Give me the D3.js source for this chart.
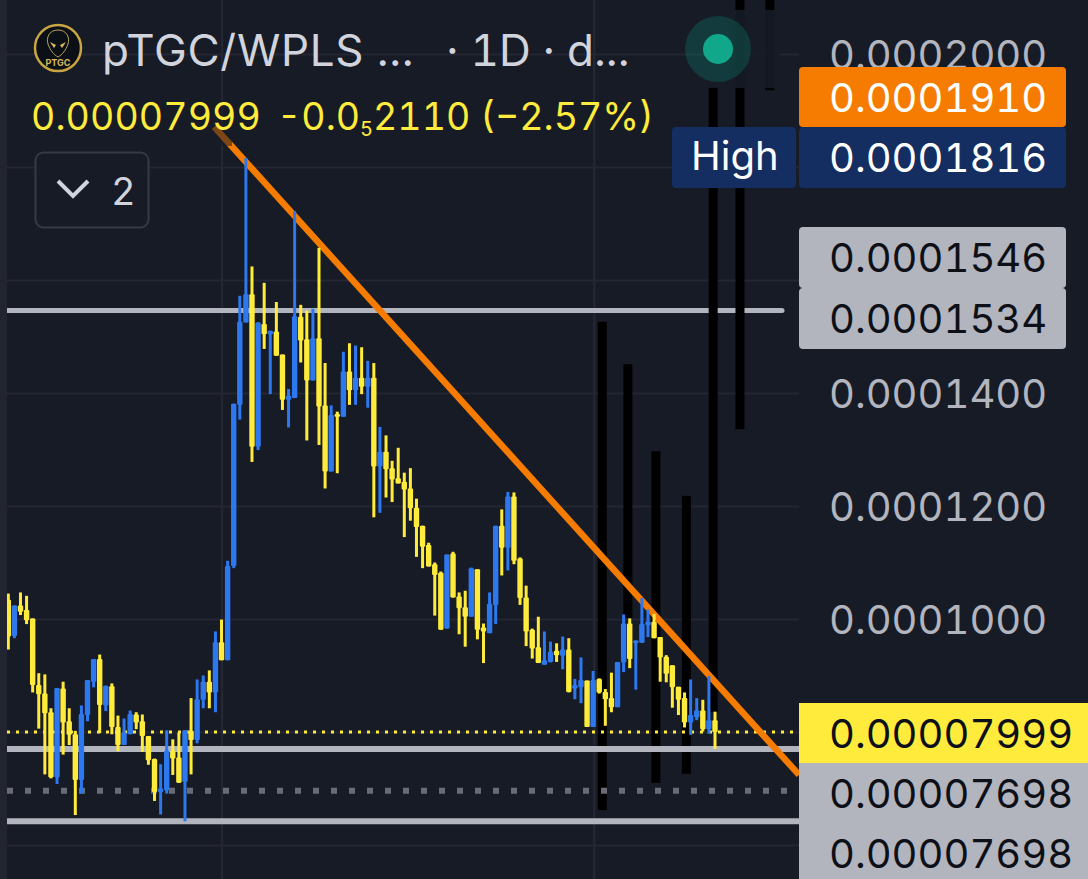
<!DOCTYPE html>
<html>
<head>
<meta charset="utf-8">
<script src="https://cdn.jsdelivr.net/npm/d3@7"></script>
<style>
  html, body { margin: 0; padding: 0; background: #171b26; overflow: hidden; }
  svg { display: block; }
  text { font-family: Inter, "Noto Sans", sans-serif; font-variant-numeric: tabular-nums; }
</style>
</head>
<body>
<div id="app"></div>
<script>
'use strict'

// prices are in millionths (100 = 0.0001000)
const opens = [103.4,97.0,102.4,101.6,100.1,88.3,86.8,83.5,72.0,87.7,81.9,79.6,71.5,83.0,88.9,92.9,84.7,88.1,80.9,77.7,
  79.6,83.1,81.9,79.3,75.2,69.4,69.7,76.7,75.5,71.2,80.2,78.6,85.7,88.9,87.0,95.9,92.7,109.4,137.9,152.5,
  157.5,130.5,152.2,150.4,150.9,146.8,138.8,139.1,153.5,149.5,142.2,149.7,137.8,126.1,136.3,135.8,143.8,140.5,142.7,141.1,
  142.7,127.0,129.6,126.7,124.9,124.3,123.1,119.7,116.5,113.1,109.7,108.2,98.3,111.6,104.0,102.1,100.4,108.8,98.5,97.5,
  102.5,116.5,112.6,121.7,110.7,103.8,98.1,95.0,91.9,92.4,94.4,93.5,94.6,87.7,87.9,89.1,80.9,89.4,87.1,86.0,
  84.4,92.3,99.2,95.7,95.8,98.9,99.5,96.8,93.3,91.8,88.0,86.0,81.7,82.6,83.8,80.5,82.1];
const closes = [96.9,102.4,101.3,99.8,88.3,86.7,83.3,72.0,87.8,81.7,79.5,71.5,83.2,89.2,92.9,84.8,88.2,80.9,77.7,79.9,
  83.2,81.7,79.3,75.0,69.4,70.0,76.7,75.3,71.0,80.3,78.6,85.8,88.9,87.0,95.9,92.7,109.4,138.1,152.6,157.5,
  130.5,152.5,150.4,151.0,146.6,138.8,139.5,153.6,149.3,142.2,149.7,137.6,126.1,136.1,135.8,143.8,140.5,142.7,141.1,142.7,
  127.0,129.6,126.5,124.7,124.0,122.9,119.6,116.3,112.8,109.3,107.8,98.1,111.4,103.8,101.9,100.4,109.0,98.1,97.8,102.7,
  116.5,112.6,121.7,110.3,103.7,97.8,94.8,92.2,92.7,94.2,93.6,94.6,87.1,88.3,89.2,80.9,89.2,87.0,85.8,84.4,
  92.4,99.2,92.9,96.2,99.1,99.5,96.6,93.2,90.3,87.9,85.7,81.7,83.0,83.8,80.5,82.1,80.0];
const highs = [104.5,102.4,104.7,104.1,100.1,90.4,90.2,84.2,87.8,88.9,84.2,80.2,84.7,89.2,92.9,93.7,88.2,88.6,82.9,82.4,
  83.8,83.5,83.1,79.3,75.3,74.3,80.3,78.7,79.9,80.3,86.0,89.3,90.0,90.9,97.8,99.9,110.3,138.1,157.2,181.6,
  162.4,152.5,159.5,151.0,156.1,146.8,140.7,172.2,155.6,154.6,154.9,165.7,145.3,137.8,136.7,147.3,148.8,148.4,148.1,145.7,
  145.3,134.0,132.5,128.0,130.3,125.9,126.7,121.3,116.5,113.5,110.0,108.4,111.4,111.9,104.7,105.0,109.1,108.8,99.2,104.7,
  116.5,119.4,122.5,122.4,110.9,105.9,98.3,100.4,97.8,96.0,95.7,96.9,96.6,89.4,93.2,89.1,90.8,89.5,87.6,90.5,
  92.4,100.8,100.1,96.2,103.7,101.7,100.9,96.8,93.6,91.8,88.0,87.0,89.3,86.0,85.7,89.9,83.6];
const lows = [94.6,96.6,100.7,99.1,87.0,80.6,72.5,71.8,70.8,76.0,77.7,65.3,69.1,81.9,87.9,79.8,83.7,79.6,76.6,77.7,
  79.6,80.5,76.5,74.2,67.8,65.4,69.1,72.4,71.0,64.2,72.5,78.0,84.2,84.2,83.5,92.7,92.7,109.0,135.3,152.5,
  127.8,129.9,147.8,139.8,146.6,137.0,133.9,139.1,145.4,131.6,142.2,130.8,123.1,126.1,125.8,135.8,137.9,137.9,139.8,137.4,
  118.0,118.8,121.5,120.7,124.0,114.5,117.4,111.0,109.0,109.3,100.6,98.1,98.3,103.8,97.3,95.1,100.4,96.4,92.2,97.5,
  99.1,107.7,108.6,109.7,102.5,95.2,93.0,92.2,91.9,92.3,92.4,91.1,87.0,85.8,85.1,80.9,80.9,86.8,81.1,83.5,
  84.4,90.6,91.3,87.5,95.8,96.8,96.6,88.9,88.8,84.3,83.0,80.8,79.5,82.1,80.1,79.7,77.0];

const priceTicks = [60, 80, 100, 120, 140, 160, 180, 200];
// the others sit behind the price tags
const labelledTicks = [100, 120, 140, 200];

// thick black drawn bars: x in candle index, top and bottom in price
const barIndex = [97.5, 101.7, 106.3, 111.3, 115.7, 120.1, 125];
const barTop = [152.6, 145.1, 129.7, 121.8, 194.0, 212, 212];
const barBottom = [66.2, 100.2, 71.0, 72.6, 83.5, 133.6, 193.6];

// orange trend line, candle index and price
const trendIndex = [33.8, 129.8];
const trendPrice = [187.1, 72.4];

const resistance = 154.6;
const support = [77.0, 64.2];
const dottedGrey = 69.6;
const lastPrice = 80.0;
const gridIndex = [35, 96.1];

// right side price tags, top to bottom
const tagLabels = ['0.0001910', '0.0001816', '0.0001546', '0.0001534', '0.00007999', '0.00007698', '0.00007698'];
const tagFills = ['#f57c00', '#142e61', '#b2b5be', '#b2b5be', '#ffeb3b', '#b2b5be', '#b2b5be'];
const tagTexts = ['#ffffff', '#ffffff', '#0e1018', '#0e1018', '#0e1018', '#0e1018', '#0e1018'];
const tagTops = [67, 127, 227, 288, 703, 763, 823];

const width = 1088;
const height = 879;
const plotLeft = 7;
const plotRight = 799;
const bg = '#171b26';

let svg = d3.select('#app').append('svg').attr('width', width).attr('height', height);

let x = d3.scaleLinear().domain([0, 116]).range([8.3, 715]);
let y = d3.scaleLinear().domain([60, 200]).range([845, 54]);

svg.append('rect').attr('width', width).attr('height', height).attr('fill', bg);
svg.append('rect').attr('width', plotLeft).attr('height', height).attr('fill', '#22252f');

svg.append('clipPath').attr('id', 'plot')
  .append('rect').attr('x', plotLeft).attr('y', 0).attr('width', plotRight - plotLeft).attr('height', height);

let plot = svg.append('g').attr('clip-path', 'url(#plot)');

// Draw grid
(plot.append('g')
  .attr('transform', `translate(${plotLeft},0)`)
  .call(d3.axisRight(y).tickValues(priceTicks).tickSize(plotRight - plotLeft).tickFormat(''))
  .call((g) => g.select('.domain').remove())
  .call((g) => g.selectAll('line').attr('stroke', '#242732').attr('stroke-width', 2))
);
(plot.append('g')
  .attr('transform', `translate(0,${height})`)
  .call(d3.axisTop(x).tickValues(gridIndex).tickSize(height).tickFormat(''))
  .call((g) => g.select('.domain').remove())
  .call((g) => g.selectAll('line').attr('stroke', '#242732').attr('stroke-width', 2.5))
);

// Draw the upper grey level, it stops short of the axis
(plot.append('line')
  .attr('x1', plotLeft).attr('x2', 782)
  .attr('y1', y(resistance)).attr('y2', y(resistance))
  .attr('stroke', '#b2b5be').attr('stroke-width', 5).attr('stroke-linecap', 'round')
);

// Draw black bars
(plot.selectAll('whatever')
  .data(barIndex)
  .enter()
    .append('rect')
      .attr('x', (d) => x(d) - 4.5)
      .attr('width', 9)
      .attr('y', (d, i) => y(barTop[i]))
      .attr('height', (d, i) => y(barBottom[i]) - y(barTop[i]))
      .attr('fill', '#000000')
);

// Draw lower grey levels
(plot.selectAll('whatever')
  .data(support)
  .enter()
    .append('line')
      .attr('x1', plotLeft).attr('x2', plotRight)
      .attr('y1', (d) => y(d)).attr('y2', (d) => y(d))
      .attr('stroke', '#b2b5be').attr('stroke-width', 6)
);
(plot.append('line')
  .attr('x1', plotLeft).attr('x2', plotRight)
  .attr('y1', y(dottedGrey)).attr('y2', y(dottedGrey))
  .attr('stroke', '#6a6c75').attr('stroke-width', 6).attr('stroke-dasharray', '6 12')
);
(plot.append('line')
  .attr('x1', plotLeft).attr('x2', plotRight)
  .attr('y1', y(lastPrice)).attr('y2', y(lastPrice))
  .attr('stroke', '#ffeb3b').attr('stroke-width', 3).attr('stroke-dasharray', '3 6')
);

// Draw trend line
(plot.append('line')
  .attr('x1', x(trendIndex[0])).attr('y1', y(trendPrice[0]))
  .attr('x2', x(trendIndex[1])).attr('y2', y(trendPrice[1]))
  .attr('stroke', '#f57c00').attr('stroke-width', 6.5)
);

// Draw candles
let color = (i) => (closes[i] >= opens[i] ? '#2d78ee' : '#ffeb3b');
(plot.selectAll('whatever')
  .data(highs)
  .enter()
    .append('rect')
      .attr('x', (d, i) => x(i) - 1.5)
      .attr('width', 3)
      .attr('y', (d) => y(d))
      .attr('height', (d, i) => y(lows[i]) - y(d))
      .attr('fill', (d, i) => color(i))
);
(plot.selectAll('whatever')
  .data(opens)
  .enter()
    .append('rect')
      .attr('x', (d, i) => x(i) - 2.7)
      .attr('width', 5.4)
      .attr('y', (d, i) => y(Math.max(d, closes[i])))
      .attr('height', (d, i) => Math.max(2, Math.abs(y(d) - y(closes[i]))))
      .attr('rx', 1)
      .attr('fill', (d, i) => color(i))
);

// Legend panel dims what runs below it
(svg.append('rect')
  .attr('x', 200).attr('y', 100).attr('width', 32).attr('height', 46)
  .attr('fill', bg).attr('opacity', 0.55)
);
(svg.append('rect')
  .attr('x', 730).attr('y', 10).attr('width', 50).attr('height', 78)
  .attr('fill', bg).attr('opacity', 0.88)
);

// Draw price axis labels
(svg.append('g')
  .attr('transform', 'translate(829,1.5)')
  .call(d3.axisRight(y).tickValues(labelledTicks).tickSize(0).tickPadding(0)
    .tickFormat((d) => (d * 1e-6).toFixed(7)))
  .call((g) => g.select('.domain').remove())
  .call((g) => g.selectAll('text')
    .attr('fill', '#b2b5be')
    .attr('font-size', 40)
    .style('font-family', 'Inter'))
);

// Draw price tags
let tags = svg.selectAll('whatever').data(tagLabels).enter().append('g');
(tags.append('rect')
  .attr('x', plotRight)
  .attr('y', (d, i) => tagTops[i])
  .attr('width', (d, i) => (i >= 4 ? width - plotRight : 267))
  .attr('height', (d, i) => (i == 6 ? height - tagTops[i] : i == 0 ? 60 : i == 4 ? 60 : 61))
  .attr('rx', (d, i) => (i >= 4 ? 0 : 4))
  .attr('fill', (d, i) => tagFills[i])
);
(tags.append('text')
  .attr('x', 829)
  .attr('y', (d, i) => tagTops[i] + 45)
  .attr('font-size', 40)
  .attr('fill', (d, i) => tagTexts[i])
  .text((d) => d)
);
(svg.append('rect')
  .attr('x', 672).attr('y', 127).attr('width', 124).attr('height', 61).attr('rx', 4)
  .attr('fill', '#142e61')
);
(svg.append('text')
  .attr('x', 691).attr('y', 170).attr('font-size', 40).attr('fill', '#ffffff')
  .text('High')
);

// Status dot
svg.append('circle').attr('cx', 718).attr('cy', 49).attr('r', 33).attr('fill', '#089981').attr('opacity', 0.25);
svg.append('circle').attr('cx', 718).attr('cy', 49).attr('r', 15).attr('fill', '#10a78b');

// Legend
let logo = svg.append('g').attr('transform', 'translate(58,48)');
logo.append('circle').attr('r', 23).attr('fill', '#0b0f16').attr('stroke', '#c9a544').attr('stroke-width', 2.5);
(logo.append('path')
  .attr('d', 'M0,-18 C9,-18 12,-10 10,-4 C8,2 4,7 0,9 C-4,7 -8,2 -10,-4 C-12,-10 -9,-18 0,-18 Z')
  .attr('fill', 'none').attr('stroke', '#b9a15a').attr('stroke-width', 1)
);
logo.append('path').attr('d', 'M-8,-6 L-2,-3 L-4,0 Z').attr('fill', '#d8b85c');
logo.append('path').attr('d', 'M8,-6 L2,-3 L4,0 Z').attr('fill', '#d8b85c');
(logo.append('text')
  .attr('y', 18).attr('text-anchor', 'middle').attr('font-size', 9).attr('font-weight', 700)
  .attr('fill', '#d8b85c').text('PTGC')
);

(svg.append('text')
  .attr('x', 102).attr('y', 66).attr('font-size', 44).attr('letter-spacing', 0.7).attr('fill', '#d1d4dc')
  .text('pTGC/WPLS ...')
);
(svg.append('text')
  .attr('x', 446).attr('y', 66).attr('font-size', 44).attr('fill', '#d1d4dc')
  .text('· 1D · d...')
);

(svg.append('text')
  .attr('x', 31).attr('y', 130).attr('font-size', 37.5).attr('letter-spacing', 0.1).attr('fill', '#ffeb3b')
  .text('0.00007999')
);
let change = (svg.append('text')
  .attr('x', 277).attr('y', 130).attr('font-size', 37.5).attr('fill', '#ffeb3b')
);
change.append('tspan').text('-0.0');
change.append('tspan').attr('font-size', 20).attr('dy', 6).text('5');
change.append('tspan').attr('dy', -6).text('2110 (−2.57%)');

(svg.append('rect')
  .attr('x', 35.5).attr('y', 152.5).attr('width', 113).attr('height', 75).attr('rx', 8)
  .attr('fill', bg).attr('stroke', '#363a45').attr('stroke-width', 2)
);
(svg.append('path')
  .attr('d', 'M58,181 L73,196 L88,181')
  .attr('fill', 'none').attr('stroke', '#d1d4dc').attr('stroke-width', 4)
);
(svg.append('text')
  .attr('x', 111).attr('y', 205).attr('font-size', 38).attr('fill', '#d1d4dc')
  .text('2')
);
</script>
</body>
</html>
